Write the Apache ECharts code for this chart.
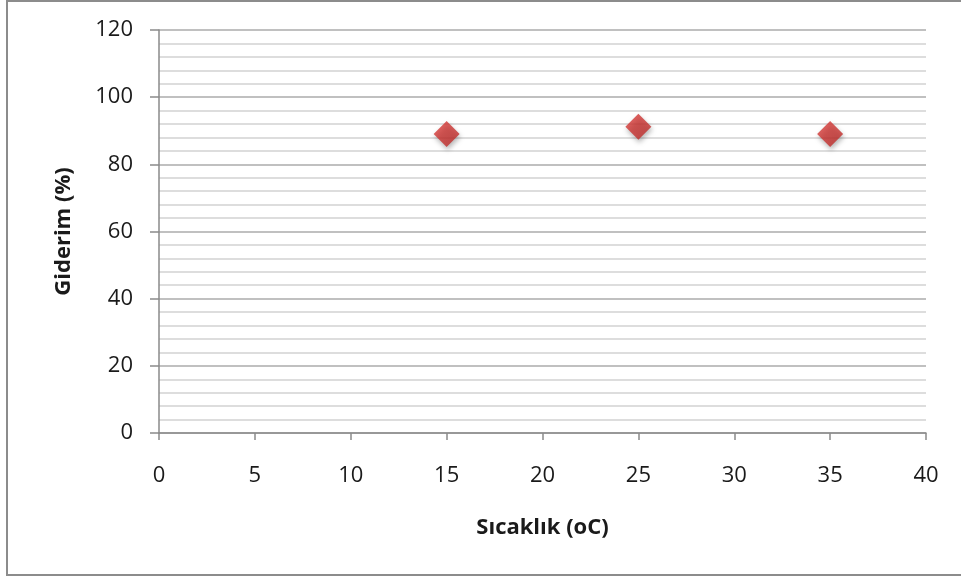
<!DOCTYPE html>
<html>
<head>
<meta charset="utf-8">
<script src="https://cdn.jsdelivr.net/npm/echarts@6/dist/echarts.min.js"></script>
<style>
  html, body { margin: 0; padding: 0; background: #fff; }
  #chart { width: 961px; height: 579px; }
</style>
</head>
<body>
<div id="chart"></div>
<script>
// Removal efficiency measured at three temperatures
const temperatures = [15, 25, 35];
const removal = [89, 91.2, 89];

const xTitle = 'Sıcaklık (oC)';
const yTitle = 'Giderim (%)';

const chart = echarts.init(document.getElementById('chart'), null, { renderer: 'canvas' });
const font = '"Open Sans", "Noto Sans", sans-serif';

chart.setOption({
  backgroundColor: '#ffffff',
  animation: false,
  graphic: [{
    type: 'rect',
    shape: { x: 7, y: 1, width: 970, height: 574 },
    style: { fill: 'none', stroke: '#8c8c8c', lineWidth: 2 },
    silent: true
  }],
  grid: { left: 159, right: 35, top: 30, bottom: 146 },
  xAxis: {
    type: 'value',
    min: 0, max: 40, interval: 5,
    name: xTitle,
    nameLocation: 'middle',
    nameGap: 84,
    nameTextStyle: { fontFamily: font, fontSize: 22, fontWeight: 'bold', color: '#1a1a1a' },
    axisLine: { show: true, lineStyle: { color: '#8a8a8a', width: 1.5 } },
    axisTick: { show: true, length: 7, lineStyle: { color: '#8a8a8a', width: 1.5 } },
    axisLabel: { margin: 32, fontFamily: font, fontSize: 22, color: '#1a1a1a' },
    splitLine: { show: false }
  },
  yAxis: {
    type: 'value',
    min: 0, max: 120, interval: 20,
    name: yTitle,
    nameLocation: 'middle',
    nameGap: 84,
    nameTextStyle: { fontFamily: font, fontSize: 22, fontWeight: 'bold', color: '#1a1a1a' },
    axisLine: { show: true, lineStyle: { color: '#8a8a8a', width: 1.5 } },
    axisTick: { show: true, length: 9, lineStyle: { color: '#8a8a8a', width: 1.5 } },
    axisLabel: { margin: 26, fontFamily: font, fontSize: 22, color: '#1a1a1a' },
    splitLine: { show: true, lineStyle: { color: '#ababab', width: 1.5 } },
    minorTick: { show: false, splitNumber: 5 },
    minorSplitLine: { show: true, lineStyle: { color: '#d2d2d2', width: 1.5 } }
  },
  series: [{
    type: 'scatter',
    data: temperatures.map((t, i) => [t, removal[i]]),
    symbol: 'diamond',
    symbolSize: [26, 26],
    itemStyle: {
      color: new echarts.graphic.LinearGradient(0, 0, 1, 1, [
        { offset: 0, color: '#dc3d3a' },
        { offset: 1, color: '#b82826' }
      ]),
      shadowBlur: 5,
      shadowOffsetX: 1,
      shadowOffsetY: 3,
      shadowColor: 'rgba(0,0,0,0.35)'
    }
  }]
});
</script>
</body>
</html>
